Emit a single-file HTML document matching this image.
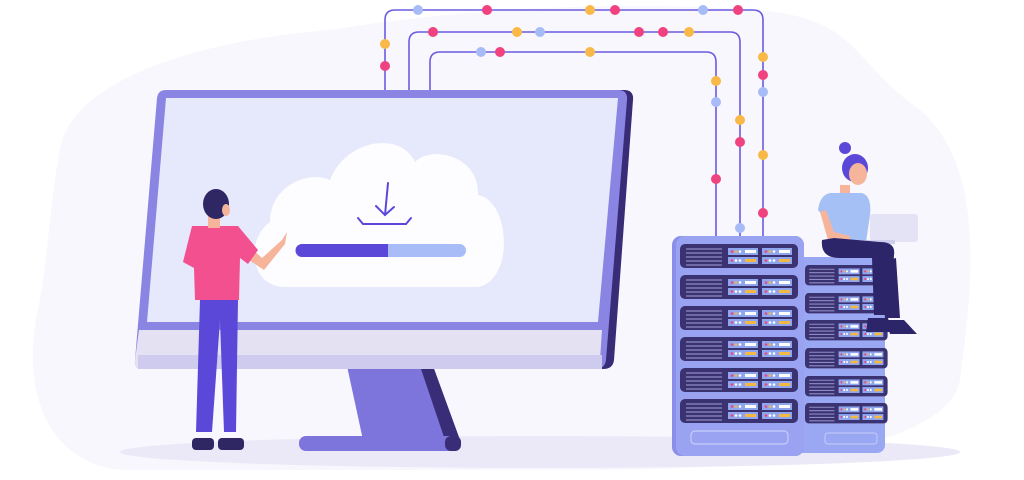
<!DOCTYPE html>
<html><head><meta charset="utf-8"><style>html,body{margin:0;padding:0;background:#fff}svg{display:block}</style></head>
<body>
<svg width="1024" height="480" viewBox="0 0 1024 480" xmlns="http://www.w3.org/2000/svg">
<defs>
<g id="unitL">
<rect x="0" y="0" width="118" height="24" rx="5" fill="#3a3271"/>
<g stroke="#8f8cc4" stroke-width="1.3"><line x1="6" y1="5" x2="42" y2="5"/><line x1="6" y1="9" x2="42" y2="9"/><line x1="6" y1="13" x2="42" y2="13"/><line x1="6" y1="17" x2="42" y2="17"/><line x1="6" y1="21" x2="42" y2="21"/></g>
<rect x="48" y="4" width="30" height="7" fill="#8fa6ef"/><rect x="82" y="4" width="30" height="7" fill="#8fa6ef"/>
<rect x="48" y="13" width="30" height="7" fill="#8fa6ef"/><rect x="82" y="13" width="30" height="7" fill="#8fa6ef"/>
<rect x="65" y="6" width="11" height="3" fill="#fff"/><rect x="99" y="6" width="11" height="3" fill="#fff"/>
<rect x="65" y="15" width="11" height="3" fill="#f5b942"/><rect x="99" y="15" width="11" height="3" fill="#f5b942"/>
<circle cx="52" cy="7.5" r="1.3" fill="#f0427f"/><circle cx="56" cy="7.5" r="1.3" fill="#f5b942"/><circle cx="60" cy="7.5" r="1.3" fill="#fff"/>
<circle cx="86" cy="7.5" r="1.3" fill="#f0427f"/><circle cx="90" cy="7.5" r="1.3" fill="#f5b942"/><circle cx="94" cy="7.5" r="1.3" fill="#fff"/>
<circle cx="52" cy="16.5" r="1.3" fill="#f0427f"/><circle cx="56" cy="16.5" r="1.3" fill="#fff"/><circle cx="60" cy="16.5" r="1.3" fill="#fff"/>
<circle cx="86" cy="16.5" r="1.3" fill="#f0427f"/><circle cx="90" cy="16.5" r="1.3" fill="#fff"/><circle cx="94" cy="16.5" r="1.3" fill="#fff"/>
</g>
</defs>
<!-- background blob -->
<path d="M60 150 C70 80 200 40 330 30 C450 10 600 0 760 10 C860 20 850 60 920 110 C990 170 970 300 960 380 C950 440 800 470 600 470 L120 470 C40 460 20 380 40 300 C50 240 50 200 60 150Z" fill="#f8f7fd"/>
<!-- floor -->
<ellipse cx="540" cy="452" rx="420" ry="16" fill="#ebe9f7"/>
<!-- wires -->
<g fill="none" stroke="#6a5ce0" stroke-width="1.6">
<path d="M385 92 V20 Q385 10 395 10 H753 Q763 10 763 20 V240"/>
<path d="M409 92 V42 Q409 32 419 32 H730 Q740 32 740 42 V240"/>
<path d="M430 92 V62 Q430 52 440 52 H706 Q716 52 716 62 V240"/>
</g>
<g>
<circle cx="418" cy="10" r="5" fill="#a7bcf7"/><circle cx="487" cy="10" r="5" fill="#f0427f"/><circle cx="590" cy="10" r="5" fill="#f8b948"/><circle cx="615" cy="10" r="5" fill="#f0427f"/><circle cx="703" cy="10" r="5" fill="#a7bcf7"/><circle cx="738" cy="10" r="5" fill="#f0427f"/>
<circle cx="385" cy="44" r="5" fill="#f8b948"/><circle cx="385" cy="66" r="5" fill="#f0427f"/>
<circle cx="763" cy="57" r="5" fill="#f8b948"/><circle cx="763" cy="75" r="5" fill="#f0427f"/><circle cx="763" cy="92" r="5" fill="#a7bcf7"/><circle cx="763" cy="155" r="5" fill="#f8b948"/><circle cx="763" cy="213" r="5" fill="#f0427f"/>
<circle cx="433" cy="32" r="5" fill="#f0427f"/><circle cx="517" cy="32" r="5" fill="#f8b948"/><circle cx="540" cy="32" r="5" fill="#a7bcf7"/><circle cx="639" cy="32" r="5" fill="#f0427f"/><circle cx="663" cy="32" r="5" fill="#f0427f"/><circle cx="689" cy="32" r="5" fill="#f8b948"/>
<circle cx="740" cy="120" r="5" fill="#f8b948"/><circle cx="740" cy="142" r="5" fill="#f0427f"/><circle cx="740" cy="228" r="5" fill="#a7bcf7"/>
<circle cx="481" cy="52" r="5" fill="#a7bcf7"/><circle cx="500" cy="52" r="5" fill="#f0427f"/><circle cx="590" cy="52" r="5" fill="#f8b948"/>
<circle cx="716" cy="81" r="5" fill="#f8b948"/><circle cx="716" cy="102" r="5" fill="#a7bcf7"/><circle cx="716" cy="179" r="5" fill="#f0427f"/>
</g>
<!-- monitor stand -->
<path d="M347 366 L433 366 L460 440 L363 440 Z" fill="#7d74dc"/>
<path d="M420 366 L433 366 L460 440 L445 440 Z" fill="#3a2d78"/>
<rect x="299" y="436" width="162" height="15" rx="7" fill="#7d74dc"/>
<rect x="445" y="436" width="16" height="15" rx="6" fill="#3a2d78"/>
<!-- monitor -->
<path d="M168 90 L624 90 Q634 90 633 100 L614 360 Q613 369 603 369 L600 369 Z" fill="#382c76"/>
<path d="M166 90 L618 90 Q628 90 627 100 L606 360 Q605 369 595 369 L142 369 Q134 369 135 360 L157 98 Q158 90 166 90 Z" fill="#8a84e2"/>
<path d="M139 330 L602 330 L600 360 Q599 369 590 369 L142 369 Q134 369 135 360 Z" fill="#e3e1f2"/>
<rect x="138" y="355" width="464" height="14" fill="#cfcbee"/>
<path d="M166 98 L618 98 L598 322 L147 322 Z" fill="#e6e8fb"/>
<!-- cloud -->
<path d="M285 287 C250 287 245 240 270 222 C270 185 310 170 330 180 C345 140 400 130 415 162 C430 145 480 155 478 195 C510 200 515 280 478 287 Z" fill="#fdfdff"/>
<rect x="296" y="244" width="170" height="13" rx="6.5" fill="#a8bdf7"/>
<path d="M302 244 H388 V257 H302 A6.5 6.5 0 0 1 302 244Z" fill="#5b48d8"/>
<g stroke="#5b48d8" stroke-width="2" fill="none" stroke-linecap="round"><line x1="388" y1="183" x2="385" y2="215"/><path d="M376 206 L385 215 L394 207"/><path d="M358 218 L363 224 H406 L411 218"/></g>
<!-- man -->
<path d="M200 300 H238 L236 432 H224 L220 320 L212 432 H196 Z" fill="#5b48d8"/>
<rect x="192" y="438" width="22" height="12" rx="4" fill="#2f2763"/><rect x="218" y="438" width="26" height="12" rx="4" fill="#2f2763"/>
<path d="M238 236 L262 258 L282 240 L287 232 L285 244 L264 270 L246 258 Z" fill="#f6b59b"/>
<path d="M192 226 H238 L258 250 L248 264 L240 258 L239 300 H195 L194 268 L183 262 Z" fill="#f2508f"/>
<rect x="208" y="214" width="12" height="14" fill="#f6b59b"/>
<ellipse cx="216" cy="204" rx="13" ry="15" fill="#2f2763"/>
<ellipse cx="226" cy="210" rx="4" ry="6" fill="#f6b59b"/>
<!-- right tower -->
<rect x="795" y="257" width="90" height="196" rx="8" fill="#9aa7f3"/>
<g transform="translate(805,265) scale(0.7,0.85)"><use href="#unitL"/></g>
<g transform="translate(805,293) scale(0.7,0.85)"><use href="#unitL"/></g>
<g transform="translate(805,320) scale(0.7,0.85)"><use href="#unitL"/></g>
<g transform="translate(805,348) scale(0.7,0.85)"><use href="#unitL"/></g>
<g transform="translate(805,376) scale(0.7,0.85)"><use href="#unitL"/></g>
<g transform="translate(805,403) scale(0.7,0.85)"><use href="#unitL"/></g>
<rect x="825" y="433" width="52" height="11" rx="3" fill="none" stroke="#c6cdfa" stroke-width="1"/>
<!-- left tower -->
<rect x="672" y="236" width="132" height="220" rx="9" fill="#8a8ee8"/>
<rect x="676" y="236" width="128" height="220" rx="9" fill="#9aa3f2"/>
<g transform="translate(680,244)"><use href="#unitL"/></g>
<g transform="translate(680,275)"><use href="#unitL"/></g>
<g transform="translate(680,306)"><use href="#unitL"/></g>
<g transform="translate(680,337)"><use href="#unitL"/></g>
<g transform="translate(680,368)"><use href="#unitL"/></g>
<g transform="translate(680,399)"><use href="#unitL"/></g>
<rect x="691" y="431" width="97" height="13" rx="4" fill="none" stroke="#c6cdfa" stroke-width="1.2"/>
<!-- woman -->
<ellipse cx="845" cy="148" rx="6" ry="6" fill="#5b48d8"/>
<ellipse cx="855" cy="168" rx="13" ry="14" fill="#5b48d8"/>
<ellipse cx="858" cy="174" rx="9" ry="11" fill="#f6b59b"/>
<rect x="840" y="185" width="10" height="10" fill="#f6b59b"/>
<path d="M830 193 H862 Q872 196 870 215 L866 242 H832 L826 220 L818 210 Q820 195 830 193Z" fill="#a5c0f5"/>
<path d="M820 212 L828 240 L850 242 L850 236 L834 232 L826 210Z" fill="#f6b59b"/>
<rect x="870" y="214" width="48" height="28" rx="3" fill="#e4e3f6"/>
<rect x="845" y="240" width="50" height="4" fill="#cfcdee"/>
<path d="M822 240 Q820 258 840 258 L872 258 L874 315 L890 315 L894 255 Q896 242 880 242 L834 238 Z" fill="#2d2569"/>
<path d="M880 262 L885 318 L900 318 L896 258 Z" fill="#2d2569"/>
<path d="M868 318 H888 L892 332 H866 Z" fill="#2d2569"/>
<path d="M886 320 H904 L917 334 H890 Z" fill="#2d2569"/>
</svg>
</body></html>
